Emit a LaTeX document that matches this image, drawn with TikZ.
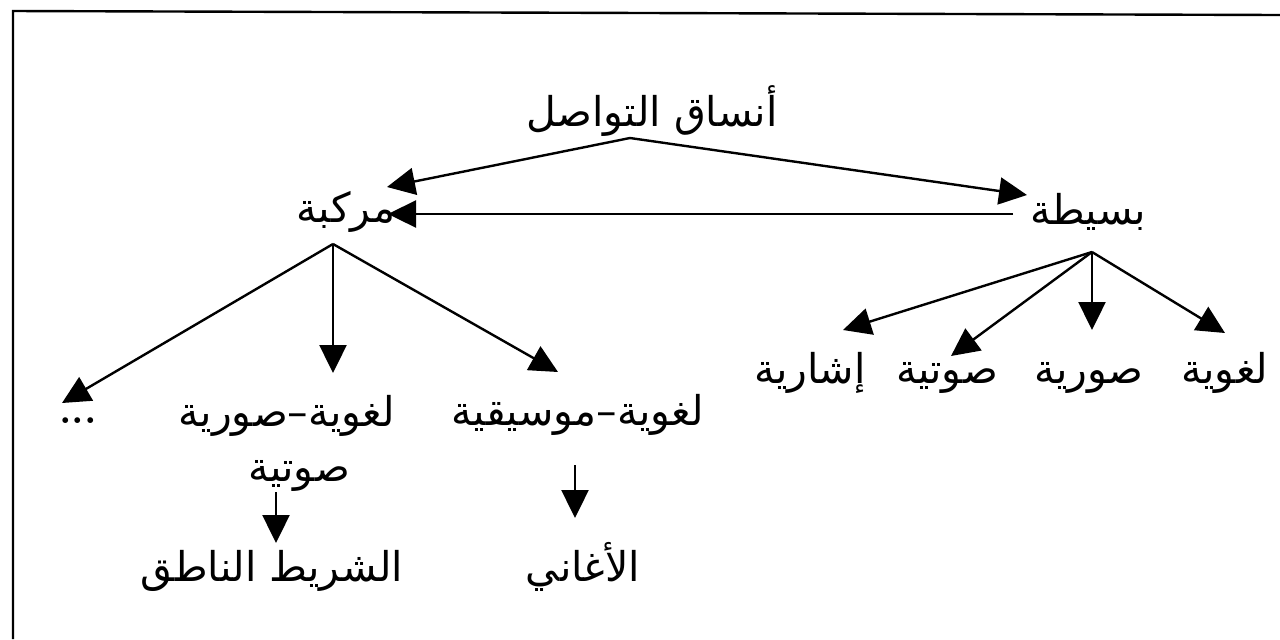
\documentclass[tikz,border=0pt]{standalone}
\usepackage{fontspec}
\newfontfamily\arabicfont[Script=Arabic]{DejaVu Sans}
\TeXXeTstate=1
\usetikzlibrary{arrows.meta}
\begin{document}
\begin{tikzpicture}[x=0.5pt,y=-0.5pt,
  lbl/.style={font={\arabicfont\fontsize{20.5}{24}\selectfont}, inner sep=0pt, anchor=base},
  conn/.style={line width=1.2pt, -{Triangle[length=14pt,width=13.5pt]}},
  frame/.style={line width=1.2pt}]
\useasboundingbox (0,0) rectangle (1280,639);
\draw[frame] (13,639) -- (13,11) -- (1280,15);
% labels (positions are baselines)
\node[lbl] (root) at (652,126) {\beginR أنساق التواصل\endR};
\node[lbl] (mrk) at (346,222) {\beginR مركبة\endR};
\node[lbl] (bst) at (1088,224) {\beginR بسيطة\endR};
\node[lbl] (ish) at (810,383) {\beginR إشارية\endR};
\node[lbl] (swt) at (947,383) {\beginR صوتية\endR};
\node[lbl] (swr) at (1089,383) {\beginR صورية\endR};
\node[lbl] (lgh) at (1225,383) {\beginR لغوية\endR};
\node[lbl,font={\bfseries\fontsize{20}{24}\selectfont}] (dots) at (78,423) {...};
\node[lbl] (lsw) at (287,426) {\beginR لغوية–صورية\endR};
\node[lbl] (lsw2) at (299,481) {\beginR صوتية\endR};
\node[lbl] (lms) at (578,425) {\beginR لغوية–موسيقية\endR};
\node[lbl] (shr) at (272,581) {\beginR الشريط الناطق\endR};
\node[lbl] (agh) at (583,581) {\beginR الأغاني\endR};
% connector ends
\coordinate (rootS) at (630,138);
\coordinate (mrkT1) at (387,187);
\coordinate (bstT1) at (1027,195);
\coordinate (bstW) at (1013,214);
\coordinate (mrkT2) at (388,214);
\coordinate (mrkS) at (333,244);
\coordinate (dotsT) at (62,403);
\coordinate (lswT) at (333,373);
\coordinate (lmsT) at (558,372);
\coordinate (bstS) at (1092,252);
\coordinate (ishT) at (843,330);
\coordinate (swtT) at (951,356);
\coordinate (swrT) at (1092,330);
\coordinate (lghT) at (1225,333);
\coordinate (lsw2S) at (276,492);
\coordinate (shrT) at (276,543);
\coordinate (lmsS) at (575,465);
\coordinate (aghT) at (575,518);
% connectors
\draw[conn] (rootS) -- (mrkT1);
\draw[conn] (rootS) -- (bstT1);
\draw[conn] (bstW) -- (mrkT2);
\draw[conn] (mrkS) -- (dotsT);
\draw[conn] (mrkS) -- (lswT);
\draw[conn] (mrkS) -- (lmsT);
\draw[conn] (bstS) -- (ishT);
\draw[conn] (bstS) -- (swtT);
\draw[conn] (bstS) -- (swrT);
\draw[conn] (bstS) -- (lghT);
\draw[conn] (lsw2S) -- (shrT);
\draw[conn] (lmsS) -- (aghT);
\end{tikzpicture}
\end{document}
